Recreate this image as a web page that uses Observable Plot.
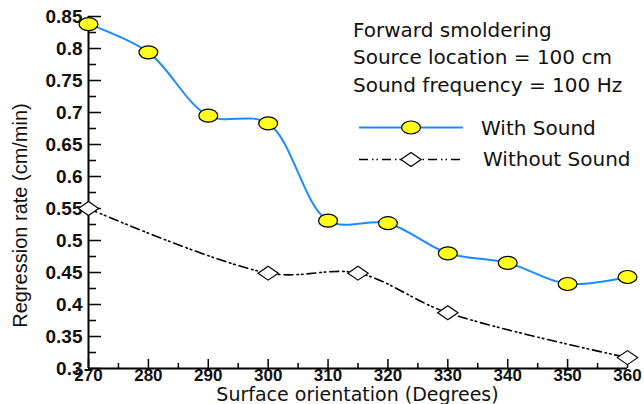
<!DOCTYPE html>
<html>
<head>
<meta charset="utf-8">
<script src="https://cdn.jsdelivr.net/npm/d3@7"></script>
<script src="https://cdn.jsdelivr.net/npm/@observablehq/plot@0.6"></script>
<style>
  html, body { margin: 0; padding: 0; background: #fff; }
  #wrap { position: relative; width: 644px; height: 404px; overflow: hidden; }
  #wrap svg { display: block; }
  .lg { position: absolute; font-family: "DejaVu Sans", sans-serif; font-size: 20px; line-height: 24px; color: #111; white-space: nowrap; }
  .xt { position: absolute; font-family: "DejaVu Sans", sans-serif; font-size: 19px; line-height: 18px; color: #111; white-space: nowrap; text-align: center; }
  #samples { position: absolute; left: 0; top: 0; }
</style>
</head>
<body>
<div id="wrap"></div>
<script>
// ---- data ----
const orientWith = [270, 280, 290, 300, 310, 320, 330, 340, 350, 360];
const rateWith   = [0.838, 0.794, 0.695, 0.683, 0.531, 0.527, 0.480, 0.465, 0.432, 0.443];
const orientWithout = [270, 300, 315, 330, 360];
const rateWithout   = [0.550, 0.449, 0.449, 0.387, 0.317];
const xTicksMajor = [270, 280, 290, 300, 310, 320, 330, 340, 350, 360];
const xTicksMinor = [275, 285, 295, 305, 315, 325, 335, 345, 355];
const yTicksMajor = [0.3, 0.35, 0.4, 0.45, 0.5, 0.55, 0.6, 0.65, 0.7, 0.75, 0.8, 0.85];
const yTicksMinor = [0.325, 0.375, 0.425, 0.475, 0.525, 0.575, 0.625, 0.675, 0.725, 0.775, 0.825];
const xTitle = "Surface orientation (Degrees)";
const yTitle = "Regression rate (cm/min)";
const legendNotes = ["Forward smoldering", "Source location = 100 cm", "Sound frequency = 100 Hz"];
const seriesNames = ["With Sound", "Without Sound"];

const withData = orientWith.map((x, i) => ({x, y: rateWith[i]}));
const withoutData = orientWithout.map((x, i) => ({x, y: rateWithout[i]}));

// ---- custom symbols ----
const ellipseSymbol = {
  draw(ctx, size) {
    const r = Math.sqrt(size / Math.PI);
    const rx = r * 1.45, ry = r, k = 0.5523;
    ctx.moveTo(rx, 0);
    ctx.bezierCurveTo(rx, k * ry, k * rx, ry, 0, ry);
    ctx.bezierCurveTo(-k * rx, ry, -rx, k * ry, -rx, 0);
    ctx.bezierCurveTo(-rx, -k * ry, -k * rx, -ry, 0, -ry);
    ctx.bezierCurveTo(k * rx, -ry, rx, -k * ry, rx, 0);
    ctx.closePath();
  }
};
const wideDiamond = {
  draw(ctx, size) {
    const r = Math.sqrt(size / Math.PI);
    const rx = r * 1.45, ry = r;
    ctx.moveTo(rx, 0);
    ctx.lineTo(0, ry);
    ctx.lineTo(-rx, 0);
    ctx.lineTo(0, -ry);
    ctx.closePath();
  }
};

const W = 644, H = 404, mL = 88, mR = 17, mT = 16, mB = 36;
const frameW = W - mL - mR, frameH = H - mT - mB;
const blue = "#1a8cff", yellow = "#ffff1a";
const dash = "9,4,1.5,3,1.5,4";
const sans = "'Liberation Sans', Arial, sans-serif";

const chart = Plot.plot({
  width: W, height: H,
  marginLeft: mL, marginRight: mR, marginTop: mT, marginBottom: mB,
  style: {fontFamily: sans, color: "#111", background: "#fff"},
  x: {domain: [270, 360]},
  y: {domain: [0.3, 0.85]},
  marks: [
    Plot.axisX(xTicksMajor, {tickSize: 0, tickPadding: 0, fontSize: 17, fontWeight: "bold", label: null}),
    Plot.axisY(yTicksMajor, {tickSize: 0, tickPadding: 6, fontSize: 19, fontWeight: "bold", label: null,
      tickFormat: d => String(+d.toFixed(2))}),
    Plot.tickY(yTicksMajor, {y: d => d, insetRight: frameW - 13, stroke: "#000", strokeWidth: 1.5}),
    Plot.tickY(yTicksMinor, {y: d => d, insetRight: frameW - 8, stroke: "#000", strokeWidth: 1.5}),
    Plot.tickX(xTicksMajor, {x: d => d, insetTop: frameH - 9, stroke: "#000", strokeWidth: 1.5}),
    Plot.tickX(xTicksMinor, {x: d => d, insetTop: frameH - 5, stroke: "#000", strokeWidth: 1.5}),
    Plot.ruleX([270], {stroke: "#000", strokeWidth: 2}),
    Plot.ruleY([0.3], {stroke: "#000", strokeWidth: 2}),
    Plot.line(withoutData, {x: "x", y: "y", curve: "catmull-rom", stroke: "#000", strokeWidth: 1.6, strokeDasharray: dash}),
    Plot.line(withData, {x: "x", y: "y", curve: "catmull-rom", stroke: blue, strokeWidth: 2}),
    Plot.dot(withoutData, {x: "x", y: "y", symbol: wideDiamond, r: 7, fill: "#fff", stroke: "#000", strokeWidth: 1.2}),
    Plot.dot(withData, {x: "x", y: "y", symbol: ellipseSymbol, r: 6.5, fill: yellow, stroke: "#000", strokeWidth: 1.2}),
    Plot.text([yTitle], {frameAnchor: "left", rotate: -90, dx: -68, dy: 23, fontSize: 20, fontFamily: sans, fill: "#111", textAnchor: "middle", lineAnchor: "middle"})
  ]
});

const wrap = document.getElementById("wrap");
wrap.appendChild(chart);

// ---- x axis title (below the plot) ----
const xt = document.createElement("div");
xt.className = "xt";
xt.style.left = mL + "px";
xt.style.width = frameW + "px";
xt.style.top = "385px";
xt.textContent = xTitle;
wrap.appendChild(xt);

// ---- legend overlay ----
const noteTops = [18, 45, 73];
legendNotes.forEach((t, i) => {
  const d = document.createElement("div");
  d.className = "lg";
  d.style.left = "353px";
  d.style.top = noteTops[i] + "px";
  d.textContent = t;
  wrap.appendChild(d);
});
const seriesPos = [{left: 481, top: 116}, {left: 483, top: 147}];
seriesNames.forEach((t, i) => {
  const d = document.createElement("div");
  d.className = "lg";
  d.style.left = seriesPos[i].left + "px";
  d.style.top = seriesPos[i].top + "px";
  d.textContent = t;
  wrap.appendChild(d);
});

const ns = "http://www.w3.org/2000/svg";
const s = document.createElementNS(ns, "svg");
s.setAttribute("id", "samples");
s.setAttribute("width", W);
s.setAttribute("height", H);
function el(name, attrs) {
  const e = document.createElementNS(ns, name);
  for (const k in attrs) e.setAttribute(k, attrs[k]);
  s.appendChild(e);
  return e;
}
function symPath(sym, r) {
  const p = d3.path();
  sym.draw(p, r * r * Math.PI);
  return p.toString();
}
el("line", {x1: 359, x2: 463, y1: 127.5, y2: 127.5, stroke: blue, "stroke-width": 2});
el("path", {d: symPath(ellipseSymbol, 6.5), transform: "translate(411,127.5)", fill: yellow, stroke: "#000", "stroke-width": 1.2});
el("line", {x1: 359, x2: 463, y1: 159.5, y2: 159.5, stroke: "#000", "stroke-width": 1.6, "stroke-dasharray": dash});
el("path", {d: symPath(wideDiamond, 7), transform: "translate(411,159.5)", fill: "#fff", stroke: "#000", "stroke-width": 1.2});
wrap.appendChild(s);
</script>
</body>
</html>
